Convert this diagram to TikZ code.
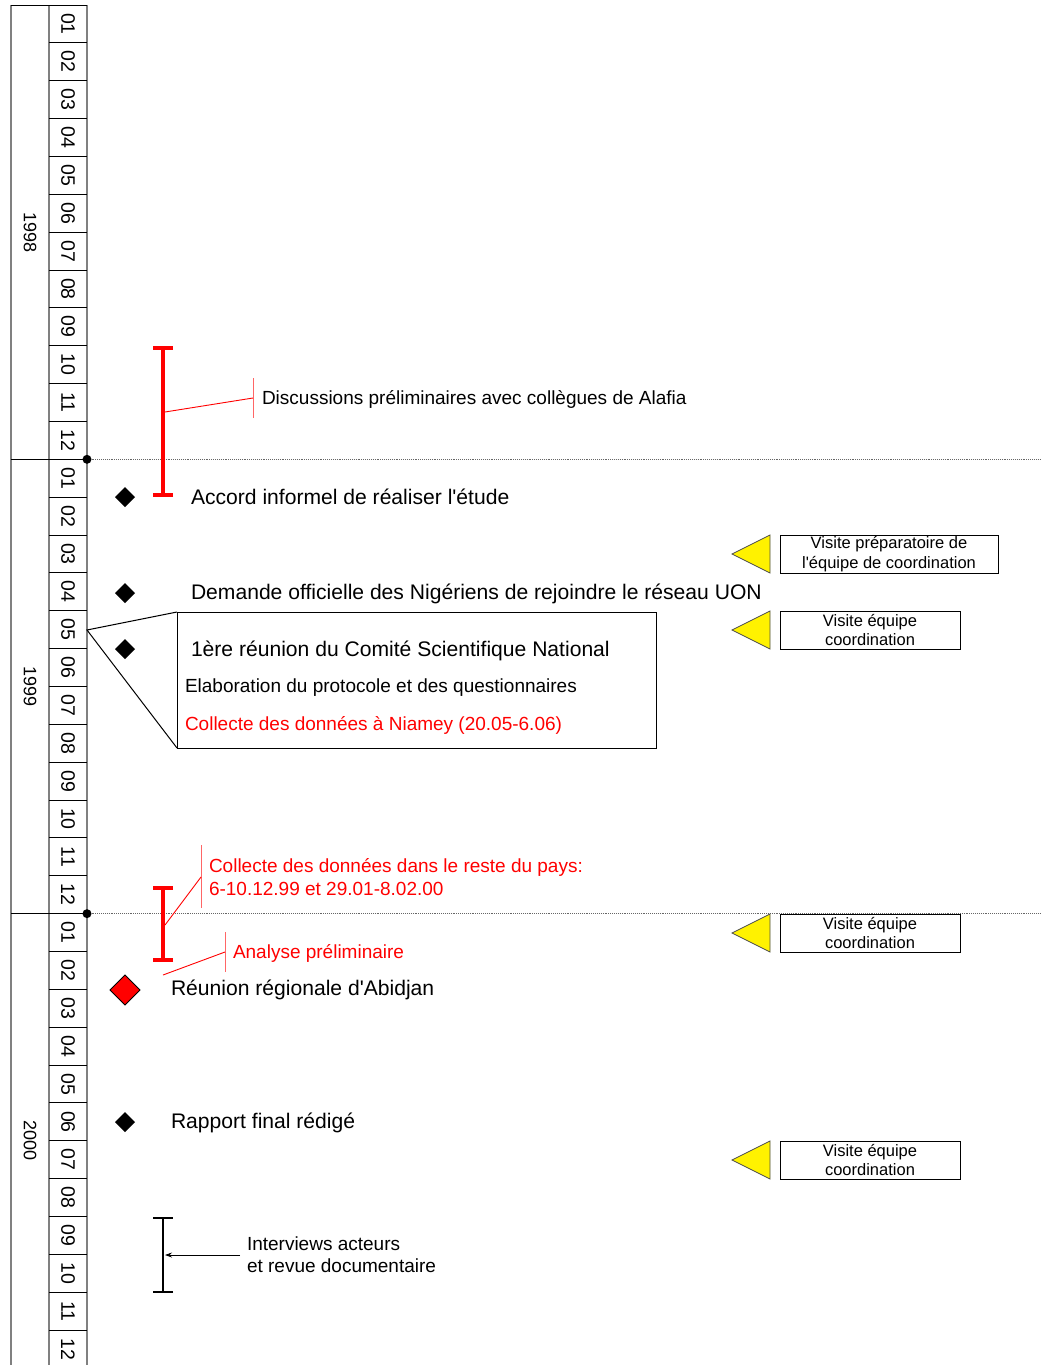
\documentclass[tikz,border=0pt]{standalone}
\usepackage{fontspec}
\setmainfont{Liberation Sans}
\usetikzlibrary{shapes.geometric,arrows.meta}

\begin{document}
\begin{tikzpicture}[x=1pt,y=-1pt,
  every node/.style={inner sep=0pt, outer sep=0pt},
  month/.style={rotate=-90, font=\fontsize{19.5}{20}\selectfont},
  vline/.style={draw=black!50, line width=1.5pt},
  hline/.style={draw=black, line width=1pt},
  yearsep/.style={draw=black!60, densely dotted, line width=0.9pt},
  dot/.style={circle, fill=black, minimum size=9pt},
  event/.style={anchor=west, text height=15pt, text depth=0pt, font=\fontsize{21.1}{25}\selectfont},
  detail/.style={anchor=west, text height=13.6pt, text depth=0pt, font=\fontsize{19}{23}\selectfont},
  evtmark/.style={diamond, fill=black, minimum size=20pt},
  redbar/.style={red, line width=4pt, arrows={Bar[width=20pt]-Bar[width=20pt]}},
  blackbar/.style={black, line width=2pt, arrows={Bar[width=20pt]-Bar[width=20pt]}},
  leader/.style={red, line width=0.9pt},
  tickline/.style={red!60, line width=0.9pt},
  visite/.style={draw, line width=1pt, anchor=west, align=center, minimum height=38pt,
                 font=\fontsize{16.5}{19.5}\selectfont},
  flag/.style={isosceles triangle, isosceles triangle stretches, shape border rotate=180,
               minimum width=38pt, minimum height=38pt, fill=yellow, draw=black!70,
               line width=0.8pt, anchor=lower side}]
  \useasboundingbox (0,0) rectangle (1041,1365);

  % month ruler
  \foreach \x in {11,49,87}
    \draw[vline] (\x,5) -- (\x,1365);
  \draw[hline] (11,5) -- (87,5);
  \foreach \k in {1,...,35}
    \draw[hline] (49,{5+\k*37.86}) -- (87,{5+\k*37.86});
  \foreach \k in {12,24}
    \draw[hline] (11,{5+\k*37.86}) -- (49,{5+\k*37.86});
  \foreach \yr [count=\i from 0] in {1998,1999,2000} {
    \node[month, font=\fontsize{18}{20}\selectfont] (yr\yr) at (30,{5+(12*\i+6)*37.86}) {\yr};
    \foreach \m [count=\j from 0] in {01,02,03,04,05,06,07,08,09,10,11,12}
      \node[month] (m\yr-\m) at (68,{5+(12*\i+\j+0.5)*37.86}) {\m};
  }

  % year separators
  \node[dot] (y1999) at (87,{5+12*37.86}) {};
  \coordinate (y1999 end) at (1041,{5+12*37.86});
  \node[dot] (y2000) at (87,{5+24*37.86}) {};
  \coordinate (y2000 end) at (1041,{5+24*37.86});
  \draw[yearsep] (y1999) -- (y1999 end);
  \draw[yearsep] (y2000) -- (y2000 end);

  % preliminary discussions
  \coordinate (prelim top) at (163,346);
  \coordinate (prelim bot) at (163,497);
  \draw[redbar] (prelim top) -- (prelim bot);
  \coordinate (prelim src) at (165,412);
  \node[detail, inner xsep=9pt] (discus) at (253,398) {Discussions préliminaires avec collègues de Alafia};
  \draw[tickline] (discus.west) ++(0,-20) -- ++(0,40);
  \draw[leader] (prelim src) -- (discus.west);

  % events
  \node[evtmark] (d1) at (125,497) {};
  \node[event] (accord) at (191,497) {Accord informel de réaliser l\textquotesingle étude};
  \node[evtmark] (d2) at (125,593) {};
  \node[event] (demande) at (191,592) {Demande officielle des Nigériens de rejoindre le réseau UON};

  % callout May 1999
  \coordinate (may99) at (87,630);
  \node[draw, line width=1pt, anchor=north west, minimum width=479pt, minimum height=136pt] (csnbox) at (177,612) {};
  \draw[line width=1pt] (csnbox.north west) -- (may99) -- (csnbox.south west);
  \node[evtmark] (d3) at (125,649) {};
  \node[event] (csn) at (191,649) {1ère réunion du Comité Scientifique National};
  \node[detail] (proto) at (185,686) {Elaboration du protocole et des questionnaires};
  \node[detail, red] (niamey) at (185,724) {Collecte des données à Niamey (20.05-6.06)};

  % data collection and analysis
  \coordinate (coll top) at (163,886);
  \coordinate (coll bot) at (163,962);
  \draw[redbar] (coll top) -- (coll bot);
  \coordinate (coll src) at (165,925);
  \node[anchor=west, red, align=left, inner xsep=8pt, font=\fontsize{19}{23}\selectfont] (reste) at (201,877)
    {Collecte des données dans le reste du pays:\\6-10.12.99 et 29.01-8.02.00};
  \draw[tickline] (reste.west) ++(0,-32) -- ++(0,63);
  \draw[leader] (coll src) -- (reste.west);
  \coordinate (anal src) at (163,975);
  \node[detail, red, inner xsep=8pt] (analyse) at (225,952) {Analyse préliminaire};
  \draw[tickline] (analyse.west) ++(0,-20) -- ++(0,40);
  \draw[leader] (anal src) -- (analyse.west);

  \node[evtmark, fill=red, draw=black, line width=0.8pt, minimum size=30pt] (d4) at (125,990) {};
  \node[event] (abidjan) at (171,988) {Réunion régionale d\textquotesingle Abidjan};
  \node[evtmark] (d5) at (125,1122) {};
  \node[event] (rapport) at (171,1121) {Rapport final rédigé};

  % interviews
  \coordinate (intv top) at (163,1217);
  \coordinate (intv bot) at (163,1293);
  \draw[blackbar] (intv top) -- (intv bot);
  \coordinate (intv mid) at (165,1255);
  \node[anchor=west, align=left, inner xsep=7pt, font=\fontsize{19}{22}\selectfont] (intv) at (240,1255)
    {Interviews acteurs\\et revue documentaire};
  \draw[line width=0.8pt, -{Stealth[length=7pt,width=5pt]}] (intv.west) -- (intv mid);

  % coordination visits
  \node[visite, minimum width=218pt] (v1) at (780,554) {Visite préparatoire de\\l\textquotesingle équipe de coordination};
  \node[flag] (f1) at ([xshift=-10pt]v1.west) {};
  \node[visite, minimum width=180pt] (v2) at (780,630) {Visite équipe\\coordination};
  \node[flag] (f2) at ([xshift=-10pt]v2.west) {};
  \node[visite, minimum width=180pt] (v3) at (780,933) {Visite équipe\\coordination};
  \node[flag] (f3) at ([xshift=-10pt]v3.west) {};
  \node[visite, minimum width=180pt] (v4) at (780,1160) {Visite équipe\\coordination};
  \node[flag] (f4) at ([xshift=-10pt]v4.west) {};
\end{tikzpicture}
\end{document}
